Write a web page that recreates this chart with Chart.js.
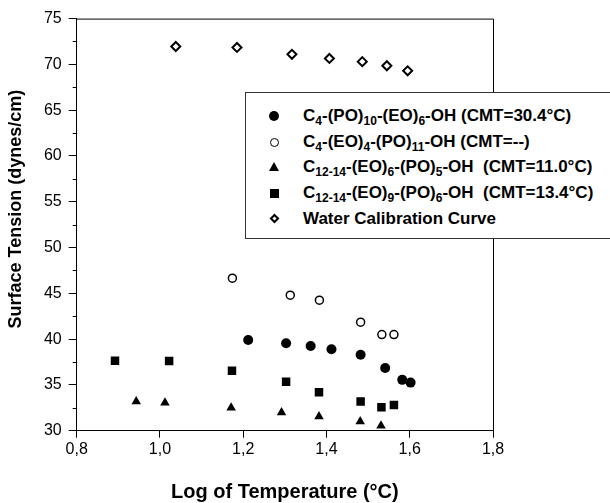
<!DOCTYPE html>
<html>
<head>
<meta charset="utf-8">
<script src="https://cdn.jsdelivr.net/npm/chart.js@4/dist/chart.umd.min.js"></script>
<style>
  html, body { margin: 0; background: #fff; overflow: hidden; width: 610px; height: 503px; }
  #wrap { position: relative; width: 610px; height: 503px; overflow: hidden; }
  #legend {
    position: absolute; left: 245px; top: 92px; width: 400px; height: 145px;
    background: #fff; border-top: 1px solid #333; border-left: 1px solid #333; border-bottom: 1px solid #333;
    font: bold 17px "Liberation Sans", Arial, sans-serif; color: #000;
  }
  .row { position: absolute; left: 0; height: 24px; line-height: 24px; white-space: pre; }
  .row .txt { position: absolute; left: 57px; top: 0; }
  .row sub { font-size: 12px; vertical-align: -4px; line-height: 0; }
  .mk { position: absolute; box-sizing: border-box; }
  .m-fill { left: 23px; top: 7px; width: 10px; height: 10px; border-radius: 50%; background: #000; }
  .m-open { left: 24px; top: 8px; width: 9px; height: 9px; border-radius: 50%; border: 1.5px solid #000; }
  .m-tri { left: 23px; top: 7px; width: 0; height: 0; border-left: 5px solid transparent; border-right: 5px solid transparent; border-bottom: 9px solid #000; }
  .m-sq { left: 24px; top: 8px; width: 9px; height: 9px; background: #000; }
  .m-dia { left: 25px; top: 8px; width: 7px; height: 7px; border: 2px solid #000; transform: rotate(45deg); }
</style>
</head>
<body>
<div id="wrap">
  <canvas id="chart" width="610" height="503"></canvas>
  <div id="legend">
    <div class="row" style="top:11px"><span class="mk m-fill"></span><span class="txt">C<sub>4</sub>-(PO)<sub>10</sub>-(EO)<sub>6</sub>-OH (CMT=30.4°C)</span></div>
    <div class="row" style="top:37px"><span class="mk m-open"></span><span class="txt">C<sub>4</sub>-(EO)<sub>4</sub>-(PO)<sub>11</sub>-OH (CMT=--)</span></div>
    <div class="row" style="top:62px"><span class="mk m-tri"></span><span class="txt">C<sub>12-14</sub>-(EO)<sub>6</sub>-(PO)<sub>5</sub>-OH  (CMT=11.0°C)</span></div>
    <div class="row" style="top:88px"><span class="mk m-sq"></span><span class="txt">C<sub>12-14</sub>-(EO)<sub>9</sub>-(PO)<sub>6</sub>-OH  (CMT=13.4°C)</span></div>
    <div class="row" style="top:114px"><span class="mk m-dia"></span><span class="txt">Water Calibration Curve</span></div>
  </div>
</div>
<script>
// data (x = log of temperature, y = surface tension)
var c4poX = [1.212, 1.303, 1.362, 1.412, 1.482, 1.541, 1.582, 1.602];
var c4poY = [39.9, 39.55, 39.25, 38.9, 38.3, 36.85, 35.55, 35.25];

var c4eoX = [1.174, 1.313, 1.383, 1.482, 1.533, 1.562];
var c4eoY = [46.65, 44.8, 44.25, 41.85, 40.5, 40.5];

var c1214eo6X = [0.943, 1.012, 1.171, 1.292, 1.382, 1.481, 1.531];
var c1214eo6Y = [33.2, 33.05, 32.5, 32.0, 31.55, 31.0, 30.55];

var c1214eo9X = [0.892, 1.022, 1.173, 1.303, 1.382, 1.482, 1.532, 1.562];
var c1214eo9Y = [37.65, 37.6, 36.55, 35.35, 34.2, 33.2, 32.55, 32.8];

var waterX = [1.038, 1.185, 1.317, 1.407, 1.486, 1.545, 1.595];
var waterY = [71.95, 71.85, 71.1, 70.65, 70.3, 69.85, 69.3];

var yMinorTicks = [32.5, 37.5, 42.5, 47.5, 52.5, 57.5, 62.5, 67.5, 72.5];
var yTitle = 'Surface Tension (dynes/cm)';

var FONT = '"Liberation Sans", Arial, sans-serif';

function pts(xs, ys) {
    return xs.map(function (x, i) { return { x: x, y: ys[i] }; });
}

// frame (top + right), short minor ticks on the y axis, and the y title
var framePlugin = {
    id: 'frame',
    afterDraw: function (chart) {
        var ctx = chart.ctx;
        var a = chart.chartArea;
        var ys = chart.scales.y;
        ctx.save();
        ctx.strokeStyle = '#000';
        ctx.lineWidth = 1;
        ctx.beginPath();
        ctx.moveTo(a.left, a.top + 0.5);
        ctx.lineTo(a.right + 0.5, a.top + 0.5);
        ctx.lineTo(a.right + 0.5, a.bottom);
        yMinorTicks.forEach(function (v) {
            var py = Math.round(ys.getPixelForValue(v)) + 0.5;
            ctx.moveTo(a.left - 4, py);
            ctx.lineTo(a.left, py);
        });
        ctx.stroke();

        // y axis title sits a bit above the middle of the axis in the original
        ctx.translate(16.5, (a.top + a.bottom) / 2 - 15.5);
        ctx.rotate(-Math.PI / 2);
        ctx.fillStyle = '#000';
        ctx.font = 'bold 18px ' + FONT;
        ctx.textAlign = 'center';
        ctx.textBaseline = 'middle';
        ctx.fillText(yTitle, 0, 0);
        ctx.restore();
    }
};

var ctx = document.getElementById('chart').getContext('2d');
new Chart(ctx, {
    type: 'scatter',
    data: {
        datasets: [
            { label: 'C4-(PO)10-(EO)6-OH', data: pts(c4poX, c4poY), pointStyle: 'circle', radius: 5, backgroundColor: '#000', borderColor: '#000', borderWidth: 0 },
            { label: 'C4-(EO)4-(PO)11-OH', data: pts(c4eoX, c4eoY), pointStyle: 'circle', radius: 4, backgroundColor: '#fff', borderColor: '#000', borderWidth: 1.5 },
            { label: 'C12-14-(EO)6-(PO)5-OH', data: pts(c1214eo6X, c1214eo6Y), pointStyle: 'triangle', radius: 5.5, backgroundColor: '#000', borderColor: '#000', borderWidth: 0 },
            { label: 'C12-14-(EO)9-(PO)6-OH', data: pts(c1214eo9X, c1214eo9Y), pointStyle: 'rect', radius: 6, backgroundColor: '#000', borderColor: '#000', borderWidth: 0 },
            { label: 'Water Calibration Curve', data: pts(waterX, waterY), pointStyle: 'rectRot', radius: 4.5, backgroundColor: '#fff', borderColor: '#000', borderWidth: 2 }
        ]
    },
    options: {
        responsive: false,
        animation: false,
        layout: { padding: { top: 18.6, right: 117, left: 0, bottom: 0 } },
        plugins: { legend: { display: false }, tooltip: { enabled: false } },
        scales: {
            x: {
                type: 'linear', min: 0.8, max: 1.8,
                afterFit: function (s) { s.height = 72.3; },
                grid: { drawOnChartArea: false, tickLength: 7, tickColor: '#000' },
                border: { color: '#000', width: 1 },
                ticks: {
                    stepSize: 0.2, padding: 2, color: '#000',
                    font: { family: FONT, size: 16 },
                    callback: function (v) { return v.toFixed(1).replace('.', ','); }
                },
                title: {
                    display: true, text: 'Log of Temperature (°C)', color: '#000',
                    font: { family: FONT, size: 20, weight: 'bold', lineHeight: 1 },
                    padding: { top: 0, bottom: 0.5 }
                }
            },
            y: {
                type: 'linear', min: 30, max: 75,
                afterFit: function (s) { s.width = 76.7; },
                grid: { drawOnChartArea: false, tickLength: 8, tickColor: '#000' },
                border: { color: '#000', width: 1 },
                ticks: {
                    stepSize: 5, padding: 7, color: '#000',
                    font: { family: FONT, size: 16 }
                }
            }
        }
    },
    plugins: [framePlugin]
});
</script>
</body>
</html>
